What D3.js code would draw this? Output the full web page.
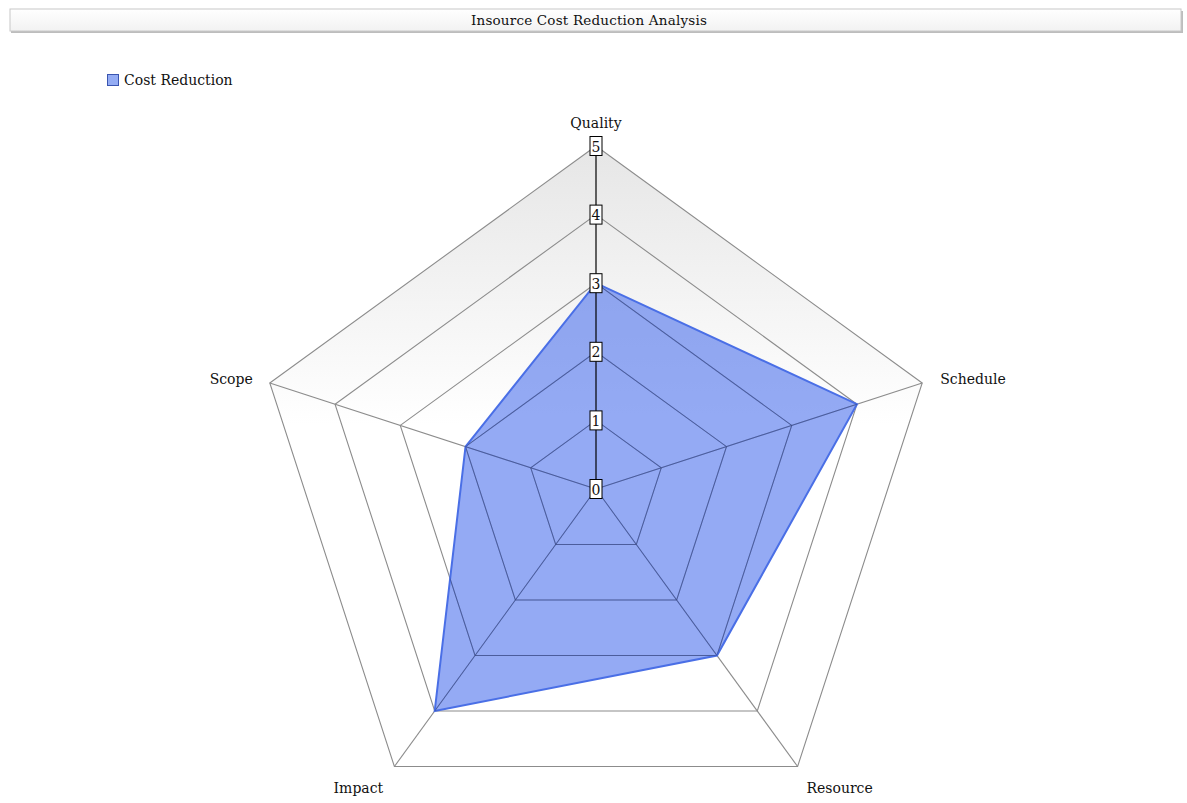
<!DOCTYPE html>
<html>
<head>
<meta charset="utf-8">
<script src="https://cdn.jsdelivr.net/npm/d3@7"></script>
<style>
  html, body { margin: 0; padding: 0; background: #fff; }
  svg { display: block; }
  text { font-family: "DejaVu Serif", "Liberation Serif", serif; fill: #111; }
</style>
</head>
<body>
<svg id="chart" width="1187" height="803"></svg>
<script>
// Chart data
const title = "Insource Cost Reduction Analysis";
const seriesName = "Cost Reduction";
const axes = ["Quality", "Schedule", "Resource", "Impact", "Scope"];
const values = [3, 4, 3, 4, 2];
const levels = [0, 1, 2, 3, 4, 5];

const width = 1187, height = 803;
const cx = 596, cy = 489, radius = 343;

const svg = d3.select("#chart");
const defs = svg.append("defs");

// Title bar gradient
const tg = defs.append("linearGradient").attr("id", "titleGrad")
  .attr("x1", 0).attr("y1", 0).attr("x2", 0).attr("y2", 1);
tg.append("stop").attr("offset", "0%").attr("stop-color", "#ffffff");
tg.append("stop").attr("offset", "100%").attr("stop-color", "#f2f2f2");

// Plot background gradient
const bg = defs.append("linearGradient").attr("id", "plotGrad")
  .attr("x1", 0).attr("y1", 0).attr("x2", 0).attr("y2", 1);
bg.append("stop").attr("offset", "0%").attr("stop-color", "#e6e6e6");
bg.append("stop").attr("offset", "45%").attr("stop-color", "#ffffff");
bg.append("stop").attr("offset", "100%").attr("stop-color", "#ffffff");

// Title bar
svg.append("rect").attr("x", 11).attr("y", 11).attr("width", 1172).attr("height", 22)
  .attr("fill", "#bdbdbd");
svg.append("rect").attr("x", 10).attr("y", 9).attr("width", 1171).attr("height", 22)
  .attr("fill", "url(#titleGrad)").attr("stroke", "#c8c8c8").attr("stroke-width", 1);
svg.append("text").attr("x", 589).attr("y", 25).attr("text-anchor", "middle")
  .attr("font-size", 13.5).attr("letter-spacing", 0.2).text(title);

// Legend
svg.append("rect").attr("x", 107.5).attr("y", 74.5).attr("width", 11).attr("height", 11)
  .attr("fill", "#94acf4").attr("stroke", "#3a55b0").attr("stroke-width", 1);
svg.append("text").attr("x", 124).attr("y", 85).attr("font-size", 14).text(seriesName);

// Scales
const r = d3.scaleLinear().domain([0, d3.max(levels)]).range([0, radius]);
const angle = d3.scalePoint().domain(axes).range([0, 2 * Math.PI * (axes.length - 1) / axes.length]);
const pt = (a, v) => {
  const t = angle(a) - Math.PI / 2;
  return [cx + r(v) * Math.cos(t), cy + r(v) * Math.sin(t)];
};

const g = svg.append("g");
const ring = v => axes.map(a => pt(a, v));
const line = d3.line().curve(d3.curveLinearClosed);

// Background
g.append("path").attr("d", line(ring(d3.max(levels))))
  .attr("fill", "url(#plotGrad)").attr("stroke", "none");

// Grid rings
g.selectAll("path.ring").data(levels.filter(l => l > 0)).join("path")
  .attr("class", "ring")
  .attr("d", l => line(ring(l)))
  .attr("fill", "none").attr("stroke", "#8c8c8c").attr("stroke-width", 1.1);

// Spokes
g.selectAll("line.spoke").data(axes.slice(1)).join("line")
  .attr("class", "spoke")
  .attr("x1", cx).attr("y1", cy)
  .attr("x2", a => pt(a, d3.max(levels))[0])
  .attr("y2", a => pt(a, d3.max(levels))[1])
  .attr("stroke", "#8c8c8c").attr("stroke-width", 1.1);

// Series area
g.append("path").attr("d", line(axes.map((a, i) => pt(a, values[i]))))
  .attr("fill", "rgba(60,100,235,0.55)")
  .attr("stroke", "#4a6fe6").attr("stroke-width", 2).attr("stroke-linejoin", "miter");

// Grid inside the area shows through darker
g.selectAll("path.ring-over").data(levels.filter(l => l > 0)).join("path")
  .attr("class", "ring-over")
  .attr("d", l => line(ring(l)))
  .attr("fill", "none").attr("stroke", "rgba(40,50,90,0.35)").attr("stroke-width", 1)
  .attr("clip-path", "url(#areaClip)");
g.selectAll("line.spoke-over").data(axes.slice(1)).join("line")
  .attr("class", "spoke-over")
  .attr("x1", cx).attr("y1", cy)
  .attr("x2", a => pt(a, d3.max(levels))[0])
  .attr("y2", a => pt(a, d3.max(levels))[1])
  .attr("stroke", "rgba(40,50,90,0.35)").attr("stroke-width", 1)
  .attr("clip-path", "url(#areaClip)");
defs.append("clipPath").attr("id", "areaClip")
  .append("path").attr("d", line(axes.map((a, i) => pt(a, values[i]))));

// Value axis along the first spoke
g.append("line").attr("x1", cx).attr("y1", cy)
  .attr("x2", pt(axes[0], d3.max(levels))[0]).attr("y2", pt(axes[0], d3.max(levels))[1])
  .attr("stroke", "#000").attr("stroke-width", 1.2);

const tick = g.selectAll("g.tick").data(levels).join("g")
  .attr("class", "tick")
  .attr("transform", l => `translate(${cx},${pt(axes[0], l)[1]})`);
tick.append("rect").attr("x", -6).attr("y", -9.5).attr("width", 12).attr("height", 19)
  .attr("fill", "#fff").attr("stroke", "#000").attr("stroke-width", 1);
tick.append("text").attr("text-anchor", "middle").attr("y", 5.5)
  .attr("font-size", 14).text(l => l);

// Axis labels
const labelPos = {
  Quality:  { dx: 0, dy: -18, anchor: "middle" },
  Schedule: { dx: 18, dy: 1, anchor: "start" },
  Resource: { dx: 42, dy: 27, anchor: "middle" },
  Impact:   { dx: -36, dy: 27, anchor: "middle" },
  Scope:    { dx: -17, dy: 1, anchor: "end" }
};
g.selectAll("text.axis-label").data(axes).join("text")
  .attr("class", "axis-label")
  .attr("x", a => pt(a, d3.max(levels))[0] + labelPos[a].dx)
  .attr("y", a => pt(a, d3.max(levels))[1] + labelPos[a].dy)
  .attr("text-anchor", a => labelPos[a].anchor)
  .attr("font-size", 14)
  .text(a => a);
</script>
</body>
</html>
